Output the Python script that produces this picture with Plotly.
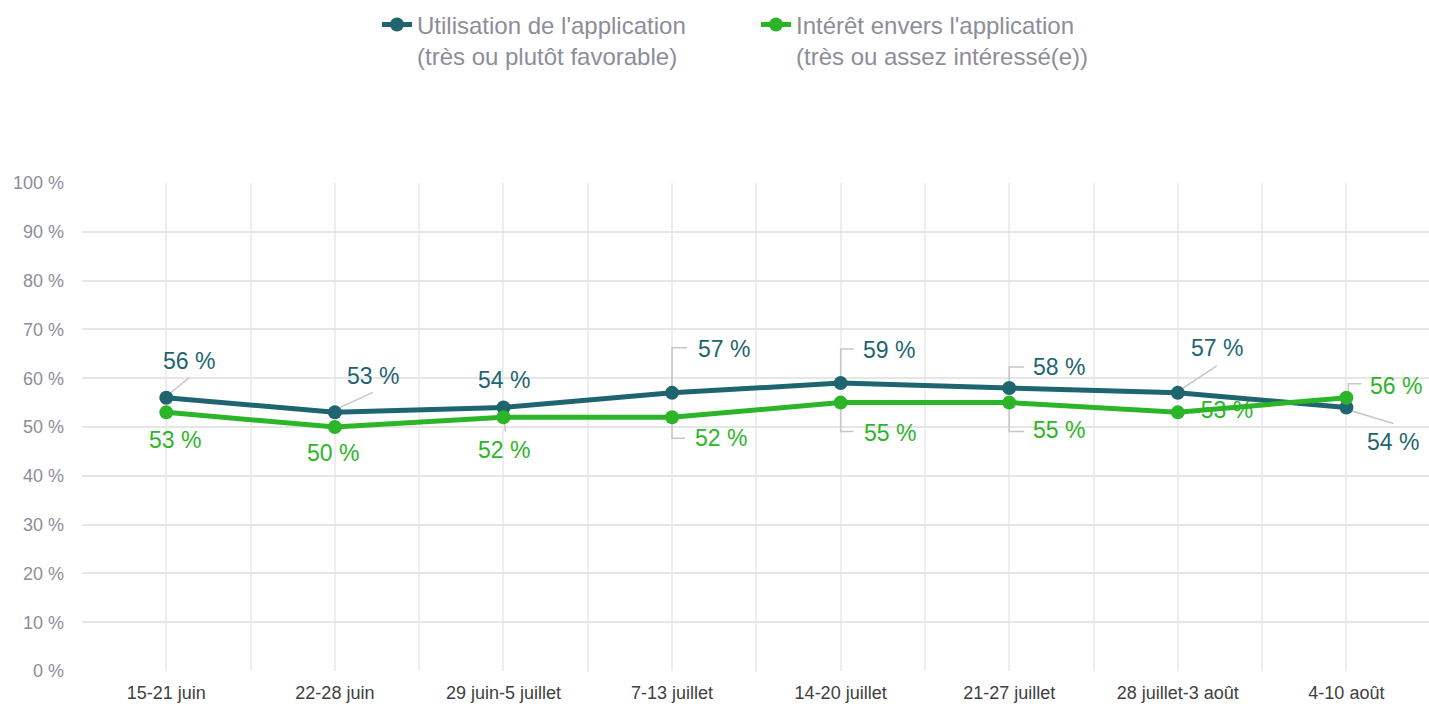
import plotly.graph_objects as go

categories = ["15-21 juin", "22-28 juin", "29 juin-5 juillet", "7-13 juillet",
              "14-20 juillet", "21-27 juillet", "28 juillet-3 août", "4-10 août"]
utilisation = [56, 53, 54, 57, 59, 58, 57, 54]
interet = [53, 50, 52, 52, 55, 55, 53, 56]
series_names = ["Utilisation de l'application<br>(très ou plutôt favorable)",
                "Intérêt envers l'application<br>(très ou assez intéressé(e))"]
y_ticks = list(range(0, 101, 10))
y_ticktext = [f"{v} %" for v in y_ticks]

TEAL = "#1e6570"
GREEN = "#2db52a"
LEADER = "#c6c6c6"
FONT = "Liberation Sans, Arial, sans-serif"

# label offsets (screen px, y down) relative to the point, and leader polylines
lab_A = [(23, -37), (38, -36), (1, -27), (52, -44), (48, -33), (50, -21), (39, -45), (47, 35)]
lead_A = [[(3, -4), (23, -20)], [(3, -4), (38, -20)], None,
          [(0, -7), (0, -45), (15, -45)], [(0, -7), (0, -34), (13, -34)],
          [(0, -7), (0, -21), (15, -21)], [(4, -4), (39, -27)], [(4, 3), (47, 16)]]
lab_B = [(9, 28), (-2, 26), (1, 33), (49, 21), (49, 30), (50, 27), (49, 1), (50, -12)]
lead_B = [None, None, [(1, 6), (2, 14)],
          [(0, 7), (0, 21), (13, 21)], [(0, 7), (0, 29), (13, 29)],
          [(0, 7), (0, 29), (15, 29)], None, [(2, -7), (2, -14), (15, -14)]]
behind_B = [False, False, False, False, False, False, True, False]

xs = list(range(len(categories)))

fig = go.Figure()

# labels that sit underneath the lines (drawn first as a text trace)
for i, v in enumerate(interet):
    if behind_B[i]:
        fig.add_trace(go.Scatter(
            x=[i], y=[v], mode="markers+text", text=[f"{v} %"],
            textposition="middle right",
            marker=dict(size=35, color="rgba(0,0,0,0)"),
            textfont=dict(size=23, color=GREEN, family=FONT),
            showlegend=False, hoverinfo="skip"))

for vals, name, col in [(utilisation, series_names[0], TEAL), (interet, series_names[1], GREEN)]:
    fig.add_trace(go.Scatter(
        x=xs, y=vals, name=name, mode="lines+markers",
        line=dict(color=col, width=5), marker=dict(color=col, size=14),
        hoverinfo="skip"))

annotations = []
shapes = []


def add_labels(vals, labs, leads, col, behind=None):
    for i, v in enumerate(vals):
        dx, dy = labs[i]
        txt = f"{v} %"
        if behind is None or not behind[i]:
            annotations.append(dict(
                x=i, y=v, xref="x", yref="y", text=txt, showarrow=False,
                xanchor="center", yanchor="middle", xshift=dx, yshift=-dy,
                font=dict(size=23, color=col, family=FONT)))
        pts = leads[i]
        if pts:
            path = "M " + " L ".join(f"{px},{-py}" for px, py in pts)
            shapes.append(dict(
                type="path", xref="x", yref="y", xsizemode="pixel", ysizemode="pixel",
                xanchor=i, yanchor=v, path=path, layer="between",
                line=dict(color=LEADER, width=1.5)))


add_labels(utilisation, lab_A, lead_A, TEAL)
add_labels(interet, lab_B, lead_B, GREEN, behind_B)

fig.update_layout(
    width=1429, height=704,
    margin=dict(l=82, r=0, t=183, b=33),
    plot_bgcolor="white", paper_bgcolor="white",
    font=dict(family=FONT),
    showlegend=True,
    legend=dict(orientation="h", x=0.219, xanchor="left", y=1.37, yanchor="top",
                font=dict(size=24, color="#8d8d99", family=FONT),
                valign="top", entrywidth=334, entrywidthmode="pixels",
                bgcolor="rgba(0,0,0,0)"),
    annotations=annotations,
    shapes=shapes,
    xaxis=dict(
        range=[-0.5, 7.49], tickvals=xs, ticktext=categories,
        showgrid=True, gridcolor="#eeeeee", gridwidth=2,
        minor=dict(tickvals=[k - 0.5 for k in range(8)], showgrid=True,
                   gridcolor="#eeeeee", gridwidth=2, ticks=""),
        zeroline=False, showline=False, ticks="",
        tickfont=dict(size=18, color="#404040", family=FONT),
        ticklabelstandoff=9, fixedrange=True),
    yaxis=dict(
        range=[0, 100], tickvals=y_ticks, ticktext=y_ticktext,
        showgrid=True, gridcolor="#e6e6e6", gridwidth=2,
        zeroline=False, showline=False, ticks="",
        tickfont=dict(size=18, color="#8d8d99", family=FONT),
        ticklabelstandoff=17, fixedrange=True),
)

fig.write_html("out.html", config={"displayModeBar": False},
               post_script="document.body.style.margin='0';")
